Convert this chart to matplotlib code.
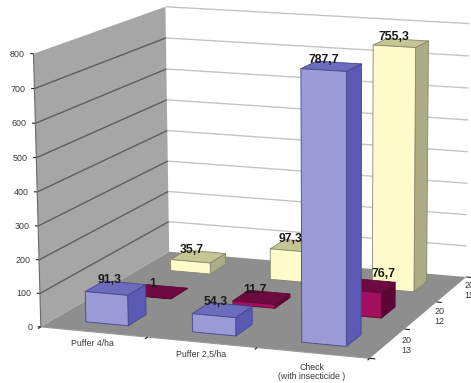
import numpy as np
import matplotlib
matplotlib.use("Agg")
import matplotlib.pyplot as plt
from mpl_toolkits.mplot3d.art3d import Poly3DCollection, Line3DCollection
from mpl_toolkits.mplot3d import proj3d

plt.rcParams['font.family'] = ['Liberation Sans', 'DejaVu Sans']

# Chart data
categories = ["Puffer 4/ha", "Puffer 2,5/ha", "Check\n(with insecticide )"]
series_labels = ["20\n13", "20\n12", "20\n11"]
values_2013 = [91.3, 54.3, 787.7]
values_2012 = [1.0, 11.7, 76.7]
values_2011 = [35.7, 97.3, 755.3]
value_labels_2013 = ["91,3", "54,3", "787,7"]
value_labels_2012 = ["1", "11,7", "76,7"]
value_labels_2011 = ["35,7", "97,3", "755,3"]
value_ticks = [0, 100, 200, 300, 400, 500, 600, 700, 800]

# Styling: (front, side, top) shades and edge colour per series
blue = ("#9a9ad6", "#5a5ab4", "#6c6cbc")
maroon = ("#a30f5e", "#5c0636", "#6e0a40")
cream = ("#fffbca", "#adad85", "#c6c694")
blue_edge, maroon_edge, cream_edge = "#45458c", "#5a0a35", "#85856c"
W, H = 471, 383
NX, NY, ZMAX = 3, 3, 800
BAR_X = (0.30, 0.70)
BAR_Y = (0.29, 0.70)

# Camera calibration: box corners (x, y, z) and where they land on the canvas
anchors = [((0, 0, 0), (42, 327)), ((NX, 0, 0), (369, 359)),
           ((0, NY, 0), (168, 252)), ((NX, NY, 0), (467, 276)),
           ((0, 0, ZMAX), (33, 53)), ((0, NY, ZMAX), (166, 7)),
           ((NX, NY, ZMAX), (469, 24))]


def solve_camera(pairs):
    rows = []
    for (x, y, z), (u, v) in pairs:
        rows.append([x, y, z, 1, 0, 0, 0, 0, -u*x, -u*y, -u*z, -u])
        rows.append([0, 0, 0, 0, x, y, z, 1, -v*x, -v*y, -v*z, -v])
    return np.linalg.svd(np.array(rows, float))[2][-1].reshape(3, 4)


P = solve_camera(anchors)
M = np.vstack([P[0], P[1], [0, 1, 0, 0], P[2]])

fig = plt.figure(figsize=(W/100, H/100), dpi=100)
ax = fig.add_axes([0, 0, 1, 1], projection="3d", computed_zorder=False)
ax.get_proj = lambda: M
ax.apply_aspect = lambda position=None: None
ax.viewLim.intervalx = (0, W)
ax.viewLim.intervaly = (H, 0)
ax.set_xticks([])
ax.set_yticks([])
ax.set_zticks([])
ax.set_axis_off()


def add_faces(faces, colors, z, lw=0.0, ec="none"):
    coll = Poly3DCollection(faces, facecolors=colors, edgecolors=ec,
                            linewidths=lw, zorder=z)
    ax.add_collection3d(coll, autolim=False)


def line(xs, ys, zs, color, lw, z):
    coll = Line3DCollection([list(zip(xs, ys, zs))], colors=color,
                            linewidths=lw, zorder=z)
    ax.add_collection3d(coll, autolim=False)


def label(x, y, z, text, ha="center", **kw):
    # Text is placed at the projected position of its 3D anchor
    u, v, _ = proj3d.proj_transform(x, y, z, M)
    ax.text2D(u, v, text, transform=ax.transData, ha=ha, va="center", **kw)


# Walls and floor
add_faces([[(0, 0, 0), (0, NY, 0), (0, NY, ZMAX), (0, 0, ZMAX)]], ["#a6a6a6"], 1)
add_faces([[(0, 0, 0), (NX, 0, 0), (NX, NY, 0), (0, NY, 0)]], ["#8e8e8e"], 1.1)

for t in value_ticks:
    if t > 0:
        line([0, NX], [NY, NY], [t, t], "#c4c4c4", 1.0, 1.2)
    if 0 < t < ZMAX:
        line([0, 0], [0, NY], [t, t], "#5e5e5e", 1.0, 1.2)
    line([-0.03, 0], [0, 0], [t, t], "#222222", 0.8, 1.3)
    label(-0.08, 0, t - 3, str(t), ha="right", fontsize=6.4, color="#3a3a3a",
          zorder=6)
line([0, 0], [0, 0], [0, ZMAX], "#6a6a6a", 0.8, 1.3)
line([0, NX], [0, 0], [0, 0], "#9a9a9a", 0.8, 1.3)

for i in range(NX + 1):
    line([i, i], [-0.06, 0], [0, 0], "#222222", 0.8, 1.3)
for j in range(NY + 1):
    line([NX, NX + 0.05], [j, j], [0, 0], "#222222", 0.8, 1.3)

for i, name in enumerate(categories):
    label(i + 0.51, -0.06, -30 if "\n" not in name else -50, name,
          fontsize=6.3, color="#3a3a3a", linespacing=1.05, zorder=6)
for j, name in enumerate(series_labels):
    label(NX + 0.17, j + 0.5, 0, name, fontsize=6.5, color="#3a3a3a",
          linespacing=1.15, zorder=6)


def add_bar(i, j, v, shades, edge, z):
    x0, x1 = i + BAR_X[0], i + BAR_X[1]
    y0, y1 = j + BAR_Y[0], j + BAR_Y[1]
    faces = [[(x0, y0, 0), (x1, y0, 0), (x1, y0, v), (x0, y0, v)],
             [(x1, y0, 0), (x1, y1, 0), (x1, y1, v), (x1, y0, v)],
             [(x0, y0, v), (x1, y0, v), (x1, y1, v), (x0, y1, v)]]
    add_faces(faces, list(shades), z, lw=0.6, ec=edge)


# Back row first so nearer bars cover the farther ones
rows = [(2, values_2011, value_labels_2011, cream, cream_edge),
        (1, values_2012, value_labels_2012, maroon, maroon_edge),
        (0, values_2013, value_labels_2013, blue, blue_edge)]
z = 2.0
for j, vals, labels, shades, edge in rows:
    for i, v in enumerate(vals):
        add_bar(i, j, v, shades, edge, z)
        z += 0.01
for j, vals, labels, shades, edge in rows:
    for i, (v, lab) in enumerate(zip(vals, labels)):
        # The 76,7 label sits clear of the tall bar in front of it
        dx = 0.22 if lab == "76,7" else 0.0
        dz = 20 if lab == "76,7" else 0
        label(i + 0.39 + dx, j + 0.62, v + 10 + dz, lab, fontsize=8.8,
              fontweight="bold", color="#1a1a1a", zorder=5)

fig.savefig("out.png", dpi=100)
